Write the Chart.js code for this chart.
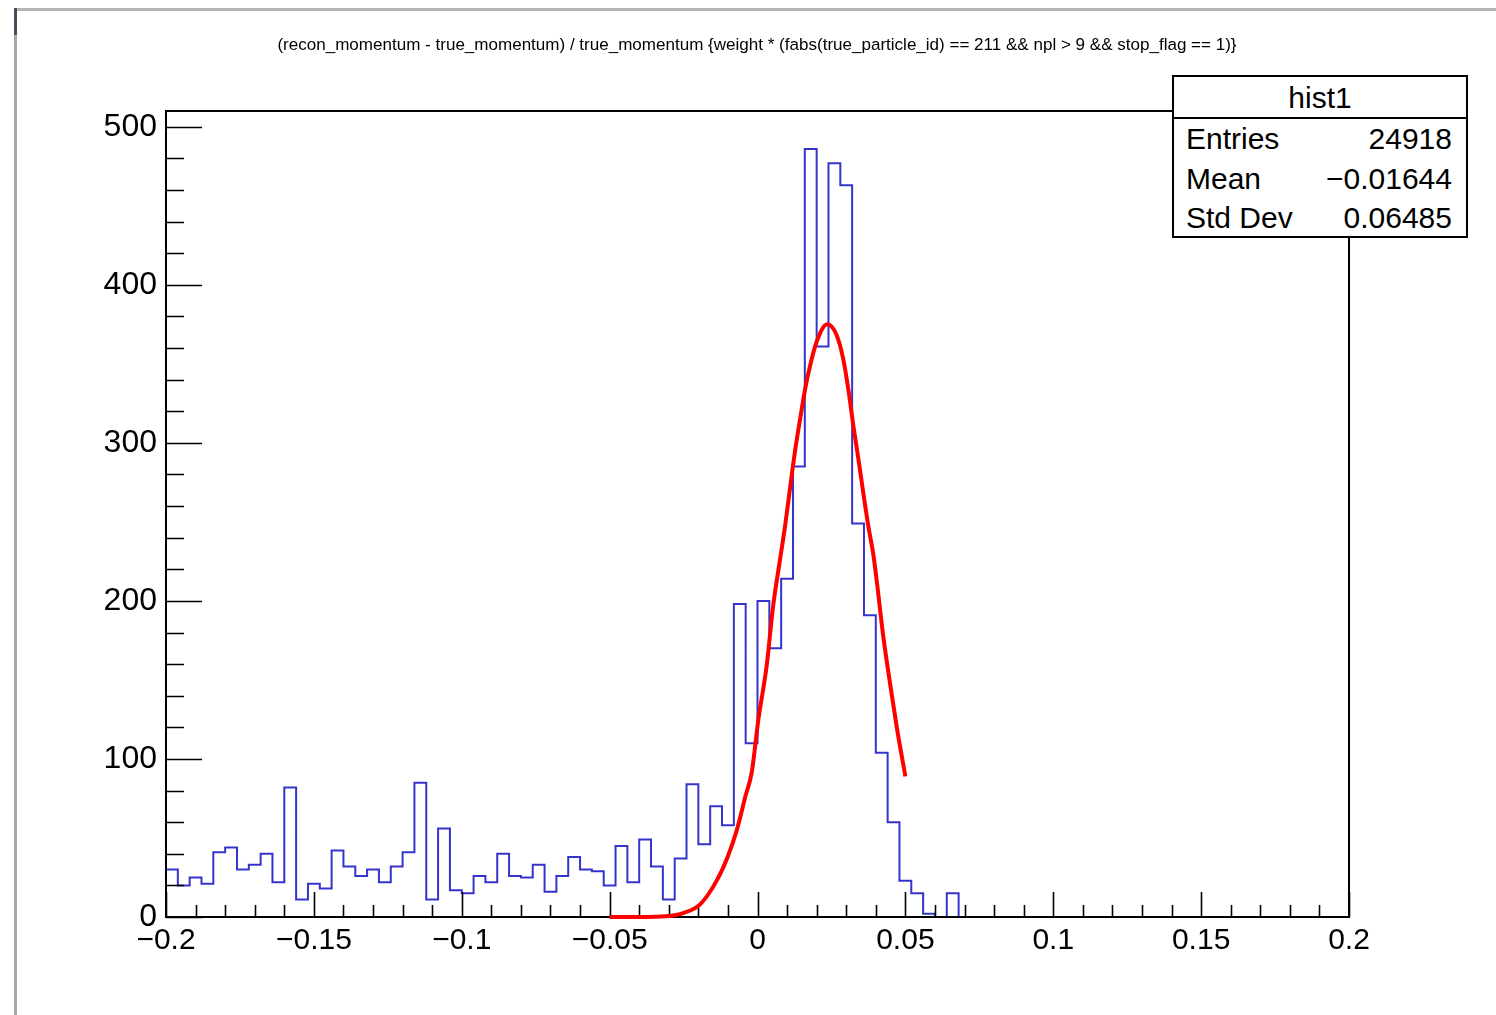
<!DOCTYPE html>
<html>
<head>
<meta charset="utf-8">
<script src="https://cdn.jsdelivr.net/npm/chart.js@4/dist/chart.umd.min.js"></script>
<style>
  html, body { margin: 0; padding: 0; background: #fff; }
  body { width: 1496px; height: 1015px; position: relative; overflow: hidden; font-family: "Liberation Sans", Arial, sans-serif; }
  #c { position: absolute; left: 0; top: 0; }
  .frameTop { position: absolute; left: 17px; top: 8px; width: 1479px; height: 3px; background: #b4b4b4; }
  .frameLeft { position: absolute; left: 14px; top: 8px; width: 3px; height: 1007px; background: #a8a8a8; }
  .frameLeftDark { position: absolute; left: 14px; top: 8px; width: 3px; height: 27px; background: #4c4c5c; }
  #title { position: absolute; top: 37px; left: 0; white-space: nowrap; color: #000; font-size: 14px; line-height: 16px; }
  #stats { position: absolute; left: 1172px; top: 75px; width: 292px; height: 159px; border: 2px solid #000; background: #fff; color: #000; font-size: 30px; }
  #stats .head { position: absolute; left: 0; top: 0; width: 292px; height: 40px; border-bottom: 2px solid #000; }
  #stats span { position: absolute; line-height: 30px; white-space: nowrap; }
</style>
</head>
<body>
<div class="frameTop"></div>
<div class="frameLeft"></div>
<div class="frameLeftDark"></div>
<canvas id="c" width="1496" height="1015"></canvas>
<div id="title">(recon_momentum - true_momentum) / true_momentum  {weight * (fabs(true_particle_id) == 211 &amp;&amp; npl &gt; 9 &amp;&amp; stop_flag == 1)}</div>
<div id="stats">
  <div class="head"></div>
  <span id="sName" style="left:0; width:292px; text-align:center; top:6px;">hist1</span>
  <span style="left:12px; top:47px;">Entries</span>
  <span style="right:14px; top:47px;">24918</span>
  <span style="left:12px; top:87px;">Mean</span>
  <span style="right:14px; top:87px;">−0.01644</span>
  <span style="left:12px; top:126px;">Std Dev</span>
  <span style="right:14px; top:126px;">0.06485</span>
</div>
<script>
// ---- data ----
const binStart = -0.2;
const binWidth = 0.004;
const counts = [
  30, 20, 25, 21, 41, 44, 30, 33, 40, 22,
  82, 11, 21, 18, 42, 32, 26, 30, 22, 32,
  41, 85, 11, 56, 17, 15, 26, 22, 40, 26,
  25, 33, 16, 26, 38, 30, 29, 20, 45, 22,
  49, 32, 11, 37, 84, 46, 70, 58, 198, 110,
  200, 170, 214, 285, 486, 361, 477, 463, 249, 191,
  104, 60, 23, 15, 2, 0, 15, 0, 0, 0,
  0, 0, 0, 0, 0, 0, 0, 0, 0, 0,
  0, 0, 0, 0, 0, 0, 0, 0, 0, 0,
  0, 0, 0, 0, 0, 0, 0, 0, 0, 0
];
const fitX = [-0.05, -0.04, -0.0307, -0.0251, -0.0194, -0.0138, -0.0101, -0.0070, -0.0040, -0.0020,
  0.0003, 0.0031, 0.0053, 0.0076, 0.0093, 0.0116, 0.0127, 0.0144, 0.0161, 0.0178,
  0.0200, 0.0236, 0.0268, 0.0290, 0.0307, 0.0324, 0.0341, 0.0358, 0.0375, 0.0392,
  0.0403, 0.0425, 0.0448, 0.0471, 0.0500];
const fitY = [0, 0, 0.5, 2.5, 8, 23, 38, 55, 77, 91,
  125, 159, 197, 226, 247, 280, 295, 315, 334, 349,
  364, 375, 368, 353, 334, 311, 290, 268, 247, 229,
  213, 178, 148, 120, 89];
const xTickValues = [-0.2, -0.15, -0.1, -0.05, 0, 0.05, 0.1, 0.15, 0.2];
const xTickLabels = ['−0.2', '−0.15', '−0.1', '−0.05', '0', '0.05', '0.1', '0.15', '0.2'];
const yTickValues = [0, 100, 200, 300, 400, 500];
const yTickLabels = ['0', '100', '200', '300', '400', '500'];
const xMin = -0.2, xMax = 0.2, yMin = 0, yMax = 510;
const xMinorStep = 0.01, yMinorStep = 20;

// ---- fit title width ----
(function () {
  const t = document.getElementById('title');
  const w = t.getBoundingClientRect().width;
  const fs = 14 * 960 / w;
  t.style.fontSize = fs.toFixed(2) + 'px';
  const w2 = t.getBoundingClientRect().width;
  t.style.left = (757 - w2 / 2) + 'px';
})();

// ---- histogram outline points (bin edges) ----
const histPts = counts.map((c, k) => ({ x: binStart + k * binWidth, y: c }));
histPts.push({ x: binStart + counts.length * binWidth, y: counts[counts.length - 1] });
const fitPts = fitX.map((x, i) => ({ x: x, y: fitY[i] }));

const rootAxes = {
  id: 'rootAxes',
  afterDatasetDraw(chart, args) {
    if (args.index !== 0) return;
    const { ctx, chartArea: a, scales: { x, y } } = chart;
    ctx.save();
    ctx.strokeStyle = '#000';
    ctx.lineWidth = 2;
    ctx.strokeRect(a.left, a.top, a.right - a.left, a.bottom - a.top);
    ctx.beginPath();
    for (let v = yMin; v <= yMax + 1e-9; v += yMinorStep) {
      const py = Math.round(y.getPixelForValue(v)) + 0.5;
      const major = yTickValues.includes(v);
      ctx.moveTo(a.left, py);
      ctx.lineTo(a.left + (major ? 36 : 18), py);
    }
    const n = Math.round((xMax - xMin) / xMinorStep);
    for (let i = 0; i <= n; i++) {
      const v = xMin + i * xMinorStep;
      const px = Math.round(x.getPixelForValue(v)) + 0.5;
      const major = i % 5 === 0;
      ctx.moveTo(px, a.bottom);
      ctx.lineTo(px, a.bottom - (major ? 25 : 12));
    }
    ctx.lineWidth = 1.6;
    ctx.stroke();
    ctx.restore();
  }
};

new Chart(document.getElementById('c'), {
  type: 'line',
  data: {
    datasets: [
      {
        label: 'hist1',
        data: histPts,
        stepped: 'before',
        borderColor: '#3434cc',
        borderWidth: 2,
        pointRadius: 0,
        fill: false,
        order: 1,
        clip: false
      },
      {
        label: 'fit',
        data: fitPts,
        borderColor: '#ff0000',
        borderWidth: 4,
        pointRadius: 0,
        fill: false,
        cubicInterpolationMode: 'monotone',
        order: 0,
        clip: false
      }
    ]
  },
  options: {
    responsive: false,
    animation: false,
    devicePixelRatio: 1,
    layout: { padding: { left: 0, top: 111, right: 147, bottom: 0 } },
    plugins: { legend: { display: false }, tooltip: { enabled: false }, title: { display: false } },
    scales: {
      x: {
        type: 'linear', min: xMin, max: xMax,
        afterBuildTicks: s => { s.ticks = xTickValues.map(v => ({ value: v })); },
        afterFit: s => { s.height = 98; },
        grid: { display: false, drawTicks: false },
        border: { display: false },
        ticks: {
          autoSkip: false, maxRotation: 0, minRotation: 0, padding: 6, color: '#000',
          font: { family: 'Liberation Sans', size: 30 },
          callback: (v, i) => xTickLabels[i]
        }
      },
      y: {
        type: 'linear', min: yMin, max: yMax,
        afterBuildTicks: s => { s.ticks = yTickValues.map(v => ({ value: v })); },
        afterFit: s => { s.width = 166; },
        grid: { display: false, drawTicks: false },
        border: { display: false },
        ticks: {
          autoSkip: false, padding: 9, color: '#000',
          font: { family: 'Liberation Sans', size: 32 },
          callback: (v, i) => yTickLabels[i]
        }
      }
    }
  },
  plugins: [rootAxes]
});
</script>
</body>
</html>
